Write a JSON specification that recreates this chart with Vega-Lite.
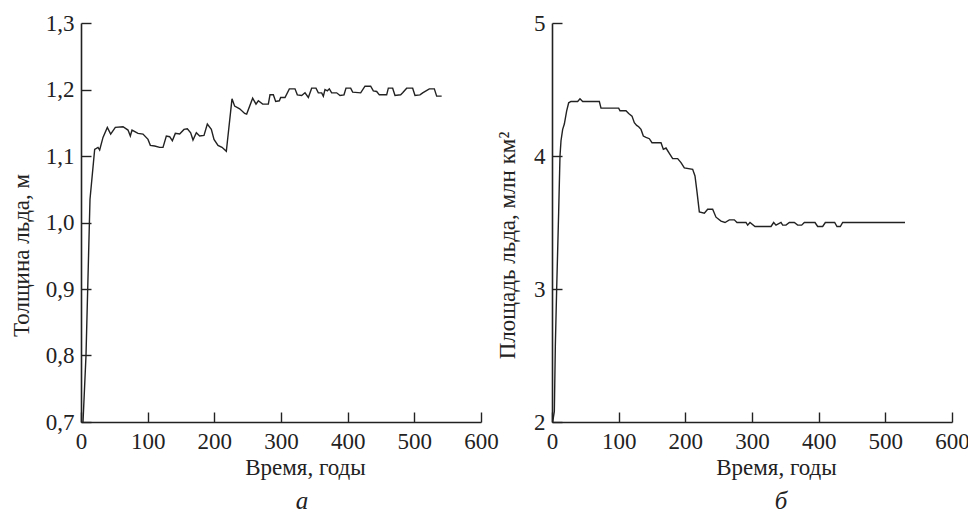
{
  "$schema": "https://vega.github.io/schema/vega-lite/v6.json",
  "background": "white",
  "padding": {"left": 10, "top": 12, "right": 5, "bottom": 0},
  "spacing": 71,
  "bounds": "flush",
  "datasets": {
    "thick": [
      {"t": 3, "v": 0.70}, {"t": 7.5, "v": 0.80}, {"t": 13.5, "v": 1.035}, {"t": 20.5, "v": 1.110},
      {"t": 25.5, "v": 1.113}, {"t": 28, "v": 1.109}, {"t": 33, "v": 1.128}, {"t": 39.5, "v": 1.143},
      {"t": 44.5, "v": 1.133}, {"t": 51.5, "v": 1.143}, {"t": 63, "v": 1.144}, {"t": 70.5, "v": 1.139},
      {"t": 74, "v": 1.130}, {"t": 76.5, "v": 1.139}, {"t": 85.5, "v": 1.134}, {"t": 93, "v": 1.133},
      {"t": 100.5, "v": 1.125}, {"t": 104, "v": 1.116}, {"t": 110.5, "v": 1.115}, {"t": 118, "v": 1.113},
      {"t": 123, "v": 1.113}, {"t": 128, "v": 1.130}, {"t": 133, "v": 1.129}, {"t": 137, "v": 1.123},
      {"t": 141.5, "v": 1.134}, {"t": 148, "v": 1.133}, {"t": 154.5, "v": 1.140}, {"t": 159.5, "v": 1.141},
      {"t": 164.5, "v": 1.135}, {"t": 168, "v": 1.124}, {"t": 173, "v": 1.135}, {"t": 178, "v": 1.130},
      {"t": 184.5, "v": 1.131}, {"t": 189.5, "v": 1.148}, {"t": 195.5, "v": 1.140}, {"t": 199.5, "v": 1.125},
      {"t": 205.5, "v": 1.116}, {"t": 211.5, "v": 1.113}, {"t": 218, "v": 1.107}, {"t": 226.5, "v": 1.186},
      {"t": 230.5, "v": 1.175}, {"t": 238, "v": 1.171}, {"t": 245.5, "v": 1.164}, {"t": 248.5, "v": 1.163},
      {"t": 257.5, "v": 1.187}, {"t": 262.5, "v": 1.178}, {"t": 266, "v": 1.183}, {"t": 272.5, "v": 1.178},
      {"t": 281, "v": 1.178}, {"t": 283.5, "v": 1.192}, {"t": 288.5, "v": 1.192}, {"t": 292, "v": 1.182},
      {"t": 297.5, "v": 1.183}, {"t": 299.5, "v": 1.188}, {"t": 306, "v": 1.188}, {"t": 312.5, "v": 1.201},
      {"t": 321, "v": 1.201}, {"t": 324.5, "v": 1.192}, {"t": 331, "v": 1.191}, {"t": 336, "v": 1.195},
      {"t": 341, "v": 1.188}, {"t": 346, "v": 1.202}, {"t": 352.5, "v": 1.202}, {"t": 356, "v": 1.195},
      {"t": 361, "v": 1.195}, {"t": 363.5, "v": 1.190}, {"t": 366, "v": 1.200}, {"t": 369.5, "v": 1.198},
      {"t": 372.5, "v": 1.201}, {"t": 376, "v": 1.195}, {"t": 383.5, "v": 1.195}, {"t": 388.5, "v": 1.191},
      {"t": 394.5, "v": 1.192}, {"t": 397.5, "v": 1.202}, {"t": 404.5, "v": 1.202}, {"t": 407.5, "v": 1.196},
      {"t": 419.5, "v": 1.195}, {"t": 426, "v": 1.205}, {"t": 434.5, "v": 1.205}, {"t": 438.5, "v": 1.198},
      {"t": 443.5, "v": 1.197}, {"t": 447.5, "v": 1.192}, {"t": 458.5, "v": 1.192}, {"t": 461, "v": 1.202},
      {"t": 467.5, "v": 1.202}, {"t": 471, "v": 1.191}, {"t": 479.5, "v": 1.192}, {"t": 482.5, "v": 1.195},
      {"t": 488.5, "v": 1.202}, {"t": 497.5, "v": 1.202}, {"t": 501, "v": 1.191}, {"t": 508.5, "v": 1.192},
      {"t": 512.5, "v": 1.195}, {"t": 522.5, "v": 1.201}, {"t": 530, "v": 1.201}, {"t": 533.5, "v": 1.190},
      {"t": 541, "v": 1.190}
    ],
    "area": [
      {"t": 1, "a": 2.0}, {"t": 3.5, "a": 2.08}, {"t": 5, "a": 2.57}, {"t": 7, "a": 3.0},
      {"t": 10, "a": 3.58}, {"t": 12, "a": 4.0}, {"t": 13.5, "a": 4.115}, {"t": 16, "a": 4.20},
      {"t": 18.5, "a": 4.24}, {"t": 22, "a": 4.34}, {"t": 25, "a": 4.40}, {"t": 28.5, "a": 4.41},
      {"t": 38.5, "a": 4.41}, {"t": 42, "a": 4.43}, {"t": 46, "a": 4.41}, {"t": 71, "a": 4.41},
      {"t": 73.5, "a": 4.36}, {"t": 100, "a": 4.36}, {"t": 102, "a": 4.34}, {"t": 111, "a": 4.34},
      {"t": 115, "a": 4.32}, {"t": 120, "a": 4.30}, {"t": 123.5, "a": 4.25}, {"t": 127, "a": 4.23},
      {"t": 130, "a": 4.22}, {"t": 133.5, "a": 4.20}, {"t": 137, "a": 4.15}, {"t": 141, "a": 4.14},
      {"t": 146, "a": 4.13}, {"t": 150, "a": 4.10}, {"t": 163.5, "a": 4.10}, {"t": 167, "a": 4.05},
      {"t": 171, "a": 4.06}, {"t": 176, "a": 4.02}, {"t": 181, "a": 3.98}, {"t": 188.5, "a": 3.98},
      {"t": 193.5, "a": 3.95}, {"t": 198.5, "a": 3.91}, {"t": 211, "a": 3.90}, {"t": 214.5, "a": 3.85},
      {"t": 217.5, "a": 3.73}, {"t": 221, "a": 3.58}, {"t": 228.5, "a": 3.57}, {"t": 233.5, "a": 3.60},
      {"t": 241, "a": 3.60}, {"t": 246, "a": 3.54}, {"t": 253.5, "a": 3.51}, {"t": 259.5, "a": 3.50},
      {"t": 266, "a": 3.52}, {"t": 273.5, "a": 3.52}, {"t": 277.5, "a": 3.50}, {"t": 291, "a": 3.50},
      {"t": 293.5, "a": 3.48}, {"t": 297, "a": 3.50}, {"t": 304.5, "a": 3.47}, {"t": 328.5, "a": 3.47},
      {"t": 332.5, "a": 3.50}, {"t": 336, "a": 3.48}, {"t": 343.5, "a": 3.50}, {"t": 346, "a": 3.48},
      {"t": 351, "a": 3.48}, {"t": 356, "a": 3.50}, {"t": 363.5, "a": 3.50}, {"t": 368.5, "a": 3.48},
      {"t": 374.5, "a": 3.48}, {"t": 378.5, "a": 3.50}, {"t": 394.5, "a": 3.50}, {"t": 398.5, "a": 3.47},
      {"t": 406, "a": 3.47}, {"t": 410, "a": 3.50}, {"t": 424, "a": 3.50}, {"t": 427.5, "a": 3.47},
      {"t": 432.5, "a": 3.47}, {"t": 436, "a": 3.50}, {"t": 529.5, "a": 3.50}
    ]
  },
  "hconcat": [
    {
      "width": 400,
      "height": 399,
      "data": {"name": "thick"},
      "title": {"text": "а", "orient": "bottom", "anchor": "middle", "dx": 21, "offset": 30, "baseline": "alphabetic", "fontStyle": "italic", "fontWeight": "normal", "fontSize": 25, "font": "Liberation Serif, Times New Roman, serif", "color": "#222"},
      "mark": {"type": "line", "color": "#222", "strokeWidth": 1.4, "clip": true},
      "encoding": {
        "x": {"field": "t", "type": "quantitative", "scale": {"domain": [0, 600], "nice": false},
              "axis": {"title": "Время, годы", "values": [0, 100, 200, 300, 400, 500, 600], "titleX": 224, "titleY": 52, "titleBaseline": "alphabetic", "titleAlign": "center"}},
        "y": {"field": "v", "type": "quantitative", "scale": {"domain": [0.7, 1.3], "nice": false, "zero": false},
              "axis": {"title": "Толщина льда, м", "values": [0.7, 0.8, 0.9, 1.0, 1.1, 1.2, 1.3], "labelExpr": "replace(format(datum.value, '.1f'), '.', ',')", "titleX": -53, "titleY": 232, "titleBaseline": "alphabetic", "titleAlign": "center", "titleAngle": 270}}
      }
    },
    {
      "width": 400,
      "height": 399,
      "data": {"name": "area"},
      "title": {"text": "б", "orient": "bottom", "anchor": "middle", "dx": 29, "offset": 30, "baseline": "alphabetic", "fontStyle": "italic", "fontWeight": "normal", "fontSize": 25, "font": "Liberation Serif, Times New Roman, serif", "color": "#222"},
      "mark": {"type": "line", "color": "#222", "strokeWidth": 1.4, "clip": true},
      "encoding": {
        "x": {"field": "t", "type": "quantitative", "scale": {"domain": [0, 600], "nice": false},
              "axis": {"title": "Время, годы", "values": [0, 100, 200, 300, 400, 500, 600], "titleX": 224, "titleY": 52, "titleBaseline": "alphabetic", "titleAlign": "center"}},
        "y": {"field": "a", "type": "quantitative", "scale": {"domain": [2, 5], "nice": false, "zero": false},
              "axis": {"title": "Площадь льда, млн км²", "values": [2, 3, 4, 5], "format": "d", "titleX": -38, "titleY": 222, "titleBaseline": "alphabetic", "titleAlign": "center", "titleAngle": 270}}
      }
    }
  ],
  "config": {
    "font": "Liberation Serif, Times New Roman, serif",
    "view": {"stroke": null},
    "axis": {
      "grid": false,
      "domainColor": "#222",
      "domainWidth": 1.6,
      "tickColor": "#222",
      "tickWidth": 1.4,
      "tickSize": -10,
      "labelFontSize": 23,
      "labelColor": "#222",
      "labelFont": "Liberation Serif, Times New Roman, serif",
      "titleFont": "Liberation Serif, Times New Roman, serif",
      "titleFontSize": 23,
      "titleFontWeight": "normal",
      "titleColor": "#222",
      "labelOverlap": false,
      "labelFlush": false
    },
    "axisX": {"labelPadding": 18},
    "axisY": {"labelPadding": 17}
  }
}
